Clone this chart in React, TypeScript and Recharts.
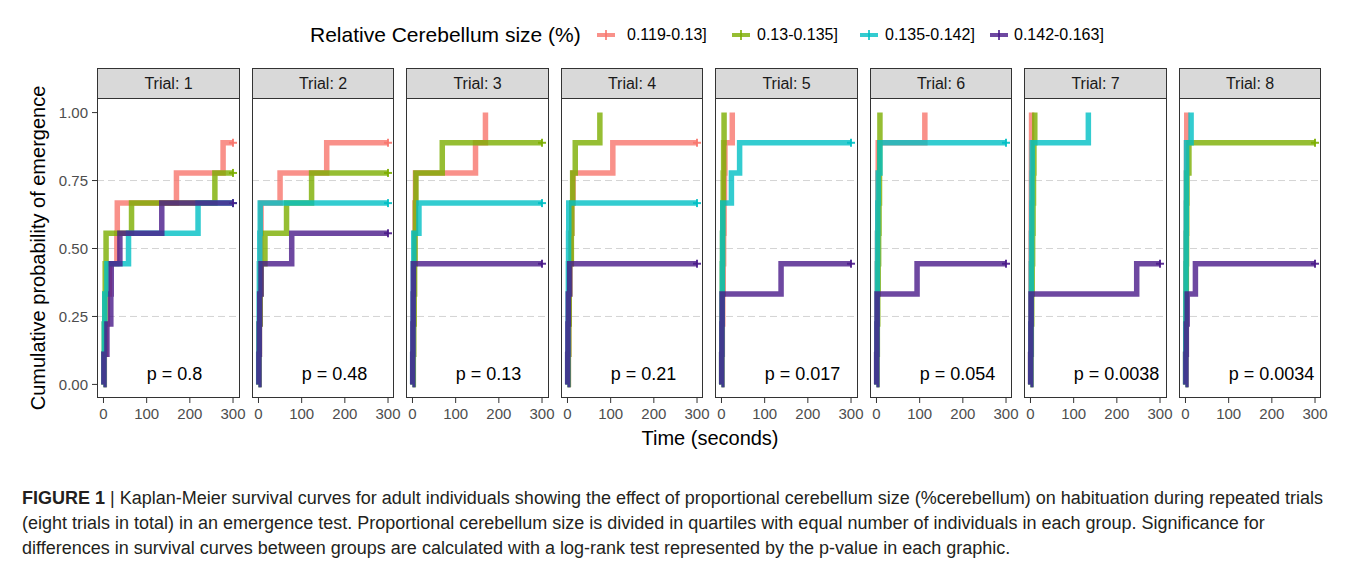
import React from "react";
import { LineChart, Line, XAxis, YAxis, ReferenceLine, ReferenceDot } from "recharts";

const groupLabels = ["0.119-0.13]", "0.13-0.135]", "0.135-0.142]", "0.142-0.163]"];
const groupColors = ["#F8766D", "#7CAE00", "#00BFC4", "#4A1A8A"];
const trialNames = ["Trial: 1", "Trial: 2", "Trial: 3", "Trial: 4", "Trial: 5", "Trial: 6", "Trial: 7", "Trial: 8"];
const pValues = ["p = 0.8", "p = 0.48", "p = 0.13", "p = 0.21", "p = 0.017", "p = 0.054", "p = 0.0038", "p = 0.0034"];
const timeTicks = [0, 100, 200, 300];
const probTicks = [0, 0.25, 0.5, 0.75, 1];
const dashedLevels = [0.25, 0.5, 0.75];

// [time (s), cumulative probability of emergence] for each group, per trial
const trial1 = [
  [[0, 0], [2, 0.111], [5, 0.222], [9, 0.333], [14, 0.444], [31, 0.556], [32, 0.667], [169, 0.778], [277, 0.889], [300, 0.889]],
  [[0, 0], [1, 0.111], [2, 0.222], [3, 0.333], [4, 0.444], [6, 0.556], [65, 0.667], [258, 0.778], [300, 0.778]],
  [[0, 0], [1, 0.111], [2, 0.222], [3, 0.333], [8, 0.444], [58, 0.556], [219, 0.667], [300, 0.667]],
  [[0, 0], [1, 0.111], [8, 0.222], [17, 0.333], [18, 0.444], [38, 0.556], [135, 0.667], [300, 0.667]],
];
const trial2 = [
  [[0, 0], [1, 0.111], [2, 0.222], [3, 0.333], [4, 0.444], [5, 0.556], [6, 0.667], [50, 0.778], [158, 0.889], [300, 0.889]],
  [[0, 0], [1, 0.111], [2, 0.222], [4, 0.333], [6, 0.444], [15, 0.556], [65, 0.667], [123, 0.778], [300, 0.778]],
  [[0, 0], [0.5, 0.111], [1, 0.222], [1.5, 0.333], [2, 0.444], [3, 0.556], [4, 0.667], [300, 0.667]],
  [[0, 0], [1, 0.111], [2, 0.222], [3, 0.333], [6, 0.444], [77, 0.556], [300, 0.556]],
];
const trial3 = [
  [[0, 0], [1, 0.111], [2, 0.222], [3, 0.333], [4, 0.444], [5, 0.556], [6, 0.667], [7, 0.778], [146, 0.889], [169, 1]],
  [[0, 0], [2, 0.111], [3, 0.222], [4, 0.333], [5, 0.444], [6, 0.556], [7, 0.667], [8, 0.778], [69, 0.889], [300, 0.889]],
  [[0, 0], [0.5, 0.111], [1, 0.222], [1.5, 0.333], [2, 0.444], [3, 0.556], [15, 0.667], [300, 0.667]],
  [[0, 0], [0.5, 0.111], [1, 0.222], [1.5, 0.333], [2, 0.444], [300, 0.444]],
];
const trial4 = [
  [[0, 0], [2, 0.111], [3, 0.222], [4, 0.333], [5, 0.444], [8, 0.556], [10, 0.667], [13, 0.778], [105, 0.889], [300, 0.889]],
  [[0, 0], [2, 0.111], [3, 0.222], [4, 0.333], [5, 0.444], [9, 0.556], [10, 0.667], [12, 0.778], [18, 0.889], [75, 1]],
  [[0, 0], [0.5, 0.111], [1, 0.222], [1.5, 0.333], [2, 0.444], [2.5, 0.556], [3, 0.667], [300, 0.667]],
  [[0, 0], [0.5, 0.111], [1, 0.222], [2, 0.333], [5, 0.444], [300, 0.444]],
];
const trial5 = [
  [[0, 0], [1, 0.111], [2, 0.222], [3, 0.333], [4, 0.444], [5, 0.556], [6, 0.667], [7, 0.778], [8, 0.889], [25, 1]],
  [[0, 0], [0.5, 0.111], [1, 0.222], [1.5, 0.333], [2, 0.444], [2.5, 0.556], [3, 0.667], [4, 0.778], [5, 0.889], [6, 1]],
  [[0, 0], [0.5, 0.111], [1, 0.222], [1.5, 0.333], [2, 0.444], [2.5, 0.556], [3, 0.667], [23, 0.778], [42, 0.889], [300, 0.889]],
  [[0, 0], [0.5, 0.111], [1, 0.222], [1.5, 0.333], [138, 0.444], [300, 0.444]],
];
const trial6 = [
  [[0, 0], [0.5, 0.111], [1, 0.222], [1.5, 0.333], [2, 0.444], [2.5, 0.556], [3, 0.667], [3.5, 0.778], [4, 0.889], [112, 1]],
  [[0, 0], [1, 0.111], [2, 0.222], [3, 0.333], [4, 0.444], [5, 0.556], [6, 0.667], [7, 0.778], [7.5, 0.889], [8, 1]],
  [[0, 0], [0.5, 0.111], [1, 0.222], [1.5, 0.333], [2, 0.444], [2.5, 0.556], [3, 0.667], [4, 0.778], [8, 0.889], [300, 0.889]],
  [[0, 0], [0.5, 0.111], [1, 0.222], [1.5, 0.333], [94, 0.444], [300, 0.444]],
];
const trial7 = [
  [[0, 0], [0.3, 0.111], [0.6, 0.222], [0.9, 0.333], [1.2, 0.444], [1.5, 0.556], [1.8, 0.667], [2, 0.778], [2.2, 0.889], [2.5, 1]],
  [[0, 0], [1, 0.111], [2, 0.222], [3, 0.333], [4, 0.444], [5, 0.556], [6, 0.667], [7, 0.778], [8, 0.889], [10, 1]],
  [[0, 0], [0.5, 0.111], [1, 0.222], [1.5, 0.333], [2, 0.444], [2.5, 0.556], [3, 0.667], [3.5, 0.778], [4, 0.889], [134, 1]],
  [[0, 0], [0.5, 0.111], [1, 0.222], [1.5, 0.333], [246, 0.444], [300, 0.444]],
];
const trial8 = [
  [[0, 0], [0.3, 0.111], [0.6, 0.222], [0.9, 0.333], [1.2, 0.444], [1.5, 0.556], [1.8, 0.667], [2.1, 0.778], [2.5, 0.889], [3, 1]],
  [[0, 0], [0.5, 0.111], [1, 0.222], [1.5, 0.333], [2, 0.444], [2.5, 0.556], [3, 0.667], [3.5, 0.778], [8, 0.889], [300, 0.889]],
  [[0, 0], [0.3, 0.111], [0.6, 0.222], [0.9, 0.333], [1.2, 0.444], [1.5, 0.556], [1.8, 0.667], [2.1, 0.778], [2.5, 0.889], [13, 1]],
  [[0, 0], [1, 0.111], [2, 0.222], [4, 0.333], [23, 0.444], [300, 0.444]],
];
const trials = [trial1, trial2, trial3, trial4, trial5, trial6, trial7, trial8];

const FONT = "'Liberation Sans', Arial, Helvetica, sans-serif";
const PANEL_X0 = 97.3;
const PANEL_STEP = 154.5;
const PLOT_W = 142.5;
const PLOT_TOP = 99;
const PLOT_H = 299;
const X_AXIS_H = 30;
const RIGHT_PAD = 16;
const LEGEND_KEY_X = [596, 731, 859, 989];
const LEGEND_LABEL_X = [627, 757, 885, 1014];

function censorDot(color: string) {
  return (props: any) => {
    const { cx, cy, payload, index } = props;
    if (!payload || payload.t !== 300 || cx == null) return <g key={"d" + index} />;
    return (
      <g key={"d" + index} stroke={color} strokeWidth={2} strokeOpacity={0.9}>
        <line x1={cx - 4} x2={cx + 4} y1={cy} y2={cy} />
        <line x1={cx} x2={cx} y1={cy - 4} y2={cy + 4} />
      </g>
    );
  };
}

function Panel({ idx }: { idx: number }) {
  const withAxis = idx === 0;
  const yW = withAxis ? 60 : 0;
  const left = PANEL_X0 + idx * PANEL_STEP;
  const series = trials[idx].map((pts) => pts.map(([t, p]) => ({ t, p })));
  return (
    <>
      <div
        style={{
          position: "absolute",
          left,
          top: 68,
          width: PLOT_W,
          height: 31,
          boxSizing: "border-box",
          background: "#d9d9d9",
          border: "1px solid #333",
          display: "flex",
          alignItems: "center",
          justifyContent: "center",
          fontSize: 16,
          color: "#1a1a1a",
        }}
      >
        {trialNames[idx]}
      </div>
      <div style={{ position: "absolute", left: left - yW, top: PLOT_TOP }}>
        <LineChart
          width={PLOT_W + yW + RIGHT_PAD}
          height={PLOT_H + X_AXIS_H}
          margin={{ top: 0, right: RIGHT_PAD, bottom: 0, left: 0 }}
        >
          <XAxis
            type="number"
            dataKey="t"
            domain={[-15, 315]}
            ticks={timeTicks}
            height={X_AXIS_H}
            axisLine={false}
            tickSize={5}
            tickMargin={5}
            tickLine={{ stroke: "#333" }}
            tick={{ fontSize: 15, fill: "#4d4d4d", fontFamily: FONT }}
            interval={0}
          />
          <YAxis
            type="number"
            domain={[-0.05, 1.05]}
            ticks={probTicks}
            hide={!withAxis}
            width={yW}
            axisLine={false}
            tickSize={5}
            tickMargin={4}
            tickLine={{ stroke: "#333" }}
            tick={{ fontSize: 15, fill: "#4d4d4d", fontFamily: FONT }}
            tickFormatter={(v: number) => v.toFixed(2)}
            interval={0}
          />
          {dashedLevels.map((v) => (
            <ReferenceLine key={v} y={v} stroke="#d4d4d4" strokeDasharray="7 4" />
          ))}
          {series.map((pts, g) => (
            <Line
              key={groupLabels[g]}
              data={pts}
              dataKey="p"
              type="stepAfter"
              stroke={groupColors[g]}
              strokeWidth={5.5}
              strokeOpacity={0.8}
              strokeLinecap="butt"
              dot={censorDot(groupColors[g])}
              activeDot={false}
              isAnimationActive={false}
            />
          ))}
          <ReferenceDot
            x={100}
            y={0.04}
            r={0}
            fill="none"
            stroke="none"
            label={{ value: pValues[idx], position: "right", offset: 0, fontSize: 18, fill: "#000", fontFamily: FONT }}
          />
        </LineChart>
      </div>
      <div
        style={{
          position: "absolute",
          left,
          top: PLOT_TOP - 1,
          width: PLOT_W,
          height: PLOT_H + 1,
          boxSizing: "border-box",
          border: "1px solid #333",
          pointerEvents: "none",
        }}
      />
    </>
  );
}

function LegendKey({ color }: { color: string }) {
  return (
    <svg width={20} height={14} style={{ display: "block" }}>
      <line x1={1} x2={19} y1={7} y2={7} stroke={color} strokeWidth={4} strokeOpacity={0.8} />
      <line x1={10} x2={10} y1={2} y2={12} stroke={color} strokeWidth={2} strokeOpacity={0.8} />
    </svg>
  );
}

export default function App() {
  return (
    <div style={{ position: "relative", width: 1357, height: 569, margin: -8, fontFamily: FONT, background: "#fff" }}>
      <div
        style={{
          position: "absolute",
          left: 2,
          top: 2,
          width: 1351,
          height: 564,
          boxSizing: "border-box",
          border: "1px solid #cfcfcf",
        }}
      />
      <div
        style={{
          position: "absolute",
          left: 310,
          top: 35,
          transform: "translateY(-50%)",
          fontSize: 21,
          color: "#000",
          whiteSpace: "nowrap",
        }}
      >
        Relative Cerebellum size (%)
      </div>
      {groupLabels.map((lab, g) => (
        <React.Fragment key={lab}>
          <div style={{ position: "absolute", left: LEGEND_KEY_X[g], top: 28 }}>
            <LegendKey color={groupColors[g]} />
          </div>
          <div
            style={{
              position: "absolute",
              left: LEGEND_LABEL_X[g],
              top: 35,
              transform: "translateY(-50%)",
              fontSize: 16,
              color: "#000",
              whiteSpace: "nowrap",
            }}
          >
            {lab}
          </div>
        </React.Fragment>
      ))}
      {trialNames.map((_, i) => (
        <Panel key={i} idx={i} />
      ))}
      <div
        style={{
          position: "absolute",
          left: 38,
          top: 248,
          transform: "translate(-50%, -50%) rotate(-90deg)",
          whiteSpace: "nowrap",
          fontSize: 20,
          color: "#000",
        }}
      >
        Cumulative probability of emergence
      </div>
      <div
        style={{
          position: "absolute",
          left: 710,
          top: 438,
          transform: "translate(-50%, -50%)",
          whiteSpace: "nowrap",
          fontSize: 20,
          color: "#000",
        }}
      >
        Time (seconds)
      </div>
      <div
        style={{
          position: "absolute",
          left: 22,
          top: 486,
          fontSize: 18,
          lineHeight: "25px",
          color: "#231f20",
          whiteSpace: "nowrap",
        }}
      >
        <b>FIGURE 1</b> | Kaplan-Meier survival curves for adult individuals showing the effect of proportional cerebellum size (%cerebellum) on habituation during repeated trials
        <br />
        (eight trials in total) in an emergence test. Proportional cerebellum size is divided in quartiles with equal number of individuals in each group. Significance for
        <br />
        differences in survival curves between groups are calculated with a log-rank test represented by the p-value in each graphic.
      </div>
    </div>
  );
}
